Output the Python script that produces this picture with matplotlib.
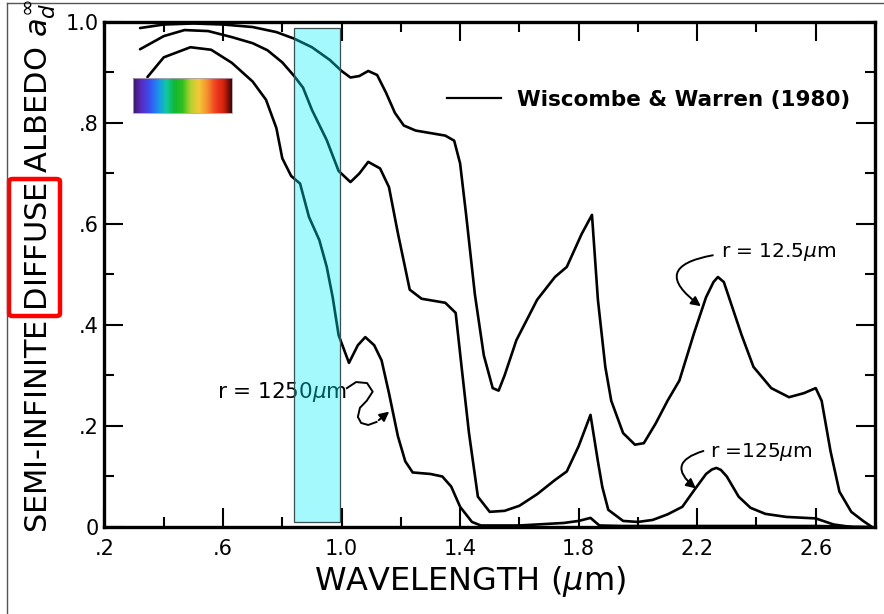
import matplotlib
matplotlib.use("Agg")
import matplotlib.pyplot as plt
from matplotlib.colors import LinearSegmentedColormap
from matplotlib.lines import Line2D
from matplotlib.patches import Rectangle, FancyBboxPatch
import numpy as np

# r = 12.5 um
wl_small = [0.32, 0.40, 0.50, 0.60, 0.70, 0.78, 0.84, 0.90, 0.96, 1.00, 1.03, 1.06, 1.09,
            1.12, 1.15, 1.18, 1.21, 1.25, 1.30, 1.35, 1.38, 1.40, 1.42, 1.45, 1.48, 1.51,
            1.53, 1.55, 1.59, 1.66, 1.72, 1.76, 1.81, 1.845, 1.865, 1.89, 1.91, 1.95, 1.99,
            2.02, 2.06, 2.10, 2.14, 2.19, 2.23, 2.255, 2.27, 2.29, 2.31, 2.35, 2.39, 2.45,
            2.51, 2.56, 2.60, 2.62, 2.65, 2.68, 2.72, 2.76, 2.79]
alb_small = [0.988, 0.995, 0.997, 0.995, 0.99, 0.98, 0.967, 0.95, 0.925, 0.903, 0.89, 0.893,
             0.903, 0.895, 0.86, 0.82, 0.795, 0.785, 0.78, 0.775, 0.765, 0.72, 0.62, 0.46,
             0.34, 0.275, 0.27, 0.30, 0.37, 0.45, 0.495, 0.515, 0.58, 0.618, 0.45, 0.317,
             0.25, 0.186, 0.163, 0.166, 0.205, 0.25, 0.29, 0.385, 0.455, 0.485, 0.495, 0.485,
             0.45, 0.38, 0.317, 0.275, 0.257, 0.265, 0.275, 0.25, 0.15, 0.07, 0.03, 0.012, 0.0]

# r = 125 um
wl_mid = [0.32, 0.40, 0.47, 0.55, 0.63, 0.70, 0.75, 0.80, 0.84, 0.87, 0.90, 0.95, 0.99,
          1.03, 1.06, 1.09, 1.13, 1.16, 1.19, 1.23, 1.27, 1.35, 1.385, 1.405, 1.43, 1.46,
          1.50, 1.55, 1.60, 1.66, 1.72, 1.76, 1.80, 1.84, 1.865, 1.88, 1.90, 1.95, 2.00,
          2.05, 2.10, 2.15, 2.19, 2.23, 2.25, 2.265, 2.28, 2.30, 2.34, 2.38, 2.43, 2.50,
          2.60, 2.66, 2.72]
alb_mid = [0.946, 0.972, 0.984, 0.982, 0.97, 0.958, 0.944, 0.92, 0.893, 0.87, 0.826, 0.766,
           0.705, 0.683, 0.70, 0.723, 0.71, 0.673, 0.582, 0.47, 0.452, 0.444, 0.424, 0.317,
           0.186, 0.06, 0.03, 0.032, 0.042, 0.065, 0.093, 0.11, 0.16, 0.222, 0.13, 0.079,
           0.034, 0.012, 0.01, 0.014, 0.025, 0.04, 0.073, 0.105, 0.114, 0.117, 0.113, 0.1,
           0.06, 0.038, 0.026, 0.02, 0.017, 0.005, 0.0]

# r = 1250 um
wl_big = [0.345, 0.40, 0.49, 0.56, 0.63, 0.70, 0.745, 0.78, 0.80, 0.83, 0.86, 0.89, 0.925,
          0.95, 0.97, 0.99, 1.025, 1.055, 1.08, 1.11, 1.135, 1.16, 1.19, 1.215, 1.24, 1.30,
          1.34, 1.37, 1.40, 1.44, 1.47, 1.60, 1.75, 1.80, 1.84, 1.87, 1.95, 2.20, 2.60, 2.78]
alb_big = [0.891, 0.93, 0.95, 0.945, 0.919, 0.882, 0.846, 0.79, 0.73, 0.695, 0.68, 0.614,
           0.568, 0.515, 0.455, 0.38, 0.325, 0.36, 0.376, 0.36, 0.33, 0.265, 0.18, 0.13,
           0.108, 0.105, 0.10, 0.08, 0.04, 0.01, 0.003, 0.003, 0.008, 0.012, 0.018, 0.003,
           0.002, 0.002, 0.002, 0.0]

xticks = [0.2, 0.6, 1.0, 1.4, 1.8, 2.2, 2.6]
xtick_labels = [".2", ".6", "1.0", "1.4", "1.8", "2.2", "2.6"]
yticks = [0, 0.2, 0.4, 0.6, 0.8, 1.0]
ytick_labels = ["0", ".2", ".4", ".6", ".8", "1.0"]

visible_band = (0.84, 0.995)
spectrum_colors = ["#3a1866", "#5a2cc0", "#3a4ff0", "#1e8ef0", "#10c8a8", "#10b838",
                   "#30bf20", "#b8d030", "#f4c838", "#f49030", "#f04020", "#d82010", "#3a0606"]

fig = plt.figure(figsize=(8.84, 6.14), dpi=100)
ax = fig.add_axes([0.1182, 0.1417, 0.8716, 0.8225])

lw = 1.9
for wl, alb in [(wl_small, alb_small), (wl_mid, alb_mid), (wl_big, alb_big)]:
    ax.plot(wl, alb, color="black", lw=lw, zorder=2,
            solid_joinstyle="round", solid_capstyle="round")

ax.set_xlim(0.2, 2.8)
ax.set_ylim(0, 1.0)
ax.set_xticks(xticks)
ax.set_xticklabels(xtick_labels)
ax.set_xticks(np.arange(0.4, 2.8, 0.4), minor=True)
ax.set_yticks(yticks)
ax.set_yticklabels(ytick_labels)
ax.set_yticks(np.arange(0.1, 1.0, 0.2), minor=True)
ax.tick_params(which="both", direction="in", top=True, right=True, width=1.5, labelsize=15)
ax.tick_params(which="major", length=14)
ax.tick_params(which="minor", length=7.5)
ax.tick_params(axis="x", pad=9)
ax.tick_params(axis="y", pad=4)
for s in ax.spines.values():
    s.set_linewidth(2.4)

# visible band highlight
ax.add_patch(Rectangle((visible_band[0], 0.01), visible_band[1] - visible_band[0], 0.978,
                       facecolor="#00f0f5", alpha=0.36, edgecolor="none", zorder=5))
ax.add_patch(Rectangle((visible_band[0], 0.01), visible_band[1] - visible_band[0], 0.978,
                       facecolor="none", edgecolor="#3a5050", lw=0.9, zorder=5))

# spectrum bar
cmap = LinearSegmentedColormap.from_list("spec", spectrum_colors)
ax.imshow(np.linspace(0, 1, 256).reshape(1, -1), cmap=cmap, aspect="auto",
          extent=[0.296, 0.629, 0.820, 0.889], zorder=4)
ax.add_patch(Rectangle((0.296, 0.820), 0.333, 0.069, facecolor="none",
                       edgecolor="#b0a0b0", lw=0.6, zorder=4))

# legend
leg = ax.legend(handles=[Line2D([], [], color="black", lw=1.6)],
                labels=["Wiscombe & Warren (1980)"], loc="center left",
                bbox_to_anchor=(0.4445, 0.8455), frameon=False, borderpad=0,
                borderaxespad=0, handlelength=2.5, handletextpad=0.75,
                prop={"size": 15.5, "weight": "bold"})

# curve labels
ax.text(2.281, 0.545, r"r = 12.5$\mu$m", fontsize=14.5, va="center", ha="left", zorder=3)
ax.annotate("", xy=(2.22, 0.434), xytext=(2.262, 0.539),
            arrowprops=dict(arrowstyle="-|>", color="black", lw=1.4,
                            connectionstyle="arc3,rad=1.2", mutation_scale=14))
ax.text(2.244, 0.149, r"r =125$\mu$m", fontsize=14.5, va="center", ha="left", zorder=3)
ax.annotate("", xy=(2.203, 0.073), xytext=(2.23, 0.152),
            arrowprops=dict(arrowstyle="-|>", color="black", lw=1.4,
                            connectionstyle="arc3,rad=1.0", mutation_scale=14))
ax.text(0.578, 0.267, r"r = 1250$\mu$m", fontsize=15.5, va="center", ha="left", zorder=3)
squig_x = [1.018, 1.049, 1.086, 1.105, 1.085, 1.062, 1.055, 1.066, 1.09, 1.118]
squig_y = [0.275, 0.287, 0.285, 0.268, 0.25, 0.236, 0.218, 0.206, 0.202, 0.208]
ax.plot(squig_x, squig_y, color="black", lw=1.4, zorder=3, solid_joinstyle="round")
ax.annotate("", xy=(1.168, 0.232), xytext=(1.118, 0.208),
            arrowprops=dict(arrowstyle="-|>", color="black", lw=1.4, mutation_scale=14))

# axis labels
fig.text(0.532, 0.053, r"WAVELENGTH ($\mu$m)", fontsize=23, ha="center", va="center")
fig.text(0.046, (614 - 533) / 614, r"SEMI-INFINITE DIFFUSE ALBEDO $a_d^{\infty}$",
         fontsize=22, rotation=90, ha="center", va="bottom")

# red box around DIFFUSE
fig.patches.append(FancyBboxPatch((9 / 884, (614 - 316) / 614), 51 / 884, 137 / 614,
                                  boxstyle="round,pad=0,rounding_size=0.004",
                                  transform=fig.transFigure, facecolor="none",
                                  edgecolor="#ff0000", lw=3.2, figure=fig))

# thin page frame
fig.add_artist(Line2D([7 / 884, 7 / 884], [0, 1 - 3 / 614], color="#555555", lw=1,
                      transform=fig.transFigure))
fig.add_artist(Line2D([7 / 884, 1], [1 - 3 / 614, 1 - 3 / 614], color="#555555", lw=1,
                      transform=fig.transFigure))

fig.savefig("out.png", dpi=100)
